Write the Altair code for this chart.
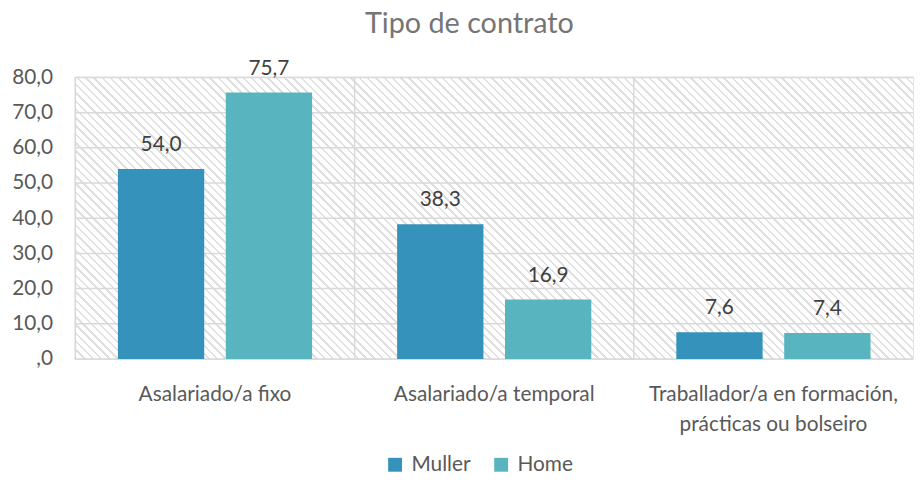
import math
import altair as alt
import pandas as pd

# ---- data ----
categories = [
    "Asalariado/a fixo",
    "Asalariado/a temporal",
    "Traballador/a en formación, prácticas ou bolseiro",
]
series = ["Muller", "Home"]
muller = [54.0, 38.3, 7.6]
home = [75.7, 16.9, 7.4]
y_ticks = [0, 10, 20, 30, 40, 50, 60, 70, 80]
colors = ["#3592BA", "#58B5C0"]

rows = []
for c, m, h in zip(categories, muller, home):
    rows.append({"cat": c, "sexo": "Muller", "val": m})
    rows.append({"cat": c, "sexo": "Home", "val": h})
df = pd.DataFrame(rows)
df["lab"] = df["val"].map(lambda v: f"{v:.1f}".replace(".", ","))
ticks_df = pd.DataFrame({"val": y_ticks})
cats_df = pd.DataFrame({"cat": categories})

# ---- style ----
W, H = 845, 284
FONT = "Lato"
FS = 21
TXT = "#595959"
GRID = "#D9D9D9"

# diagonal hatch background via a striped linear gradient
r = H / W
k = (1 + r) / (1 + r * r)
n_stripes = 135
f = 0.30
stops = []
for i in range(n_stripes):
    a = i / n_stripes
    b = (i + f) / n_stripes
    e = (i + 1) / n_stripes
    stops += [
        alt.GradientStop(offset=a, color="#E0E0E0"),
        alt.GradientStop(offset=b, color="#E0E0E0"),
        alt.GradientStop(offset=b, color="#FFFFFF"),
        alt.GradientStop(offset=e, color="#FFFFFF"),
    ]
hatch = alt.Gradient(gradient="linear", stops=stops, x1=0, y1=1, x2=k, y2=1 - k * r)

y_scale = alt.Scale(domain=[0, 80], nice=False, zero=True)
y_axis = alt.Axis(
    title=None,
    values=y_ticks,
    grid=False,
    domain=False,
    ticks=False,
    labelFont=FONT,
    labelFontSize=FS,
    labelColor=TXT,
    labelPadding=23,
    labelOverlap=False,
    labelExpr="datum.value == 0 ? ',0' : replace(format(datum.value, '.1f'), '.', ',')",
)
x_axis = alt.Axis(
    title=None,
    labelAngle=0,
    grid=False,
    ticks=False,
    domain=False,
    labelFont=FONT,
    labelFontSize=FS,
    labelColor=TXT,
    labelPadding=25,
    labelLineHeight=30,
    labelBaseline="top",
    labelLimit=0,
    labelOverlap=False,
    labelExpr="split(replace(datum.label, ', ', ',|'), '|')",
)
x_scale = alt.Scale(domain=categories, paddingInner=0, paddingOuter=0)

bg = alt.Chart(pd.DataFrame({"a": [0]})).mark_rect(fill=hatch).encode(
    y=alt.datum(0, scale=y_scale, axis=y_axis),
    y2=alt.datum(80),
)

hgrid = alt.Chart(ticks_df).mark_rule(color=GRID, strokeWidth=1.5).encode(
    y=alt.Y("val:Q", scale=y_scale, axis=y_axis),
)

vgrid = alt.Chart(cats_df).mark_rule(color=GRID, strokeWidth=1.5).encode(
    x=alt.X("cat:N", sort=categories, scale=x_scale, axis=x_axis, bandPosition=0),
)

xoff = alt.XOffset(
    "sexo:N", sort=series, scale=alt.Scale(paddingInner=0.2, paddingOuter=0.394)
)

bars = alt.Chart(df).mark_bar().encode(
    x=alt.X("cat:N", sort=categories, scale=x_scale, axis=x_axis),
    y=alt.Y("val:Q", scale=y_scale, axis=y_axis),
    xOffset=xoff,
    color=alt.Color(
        "sexo:N",
        sort=series,
        scale=alt.Scale(domain=series, range=colors),
        legend=alt.Legend(
            title=None,
            orient="none",
            direction="horizontal",
            legendX=312,
            legendY=380,
            symbolType="square",
            symbolSize=196,
            symbolStrokeWidth=0,
            labelFont=FONT,
            labelFontSize=FS,
            labelColor=TXT,
            labelOffset=6,
            columnPadding=20,
        ),
    ),
)

labels = alt.Chart(df).mark_text(
    font=FONT, fontSize=FS, color="#404040", baseline="alphabetic", dy=-18
).encode(
    x=alt.X("cat:N", sort=categories, scale=x_scale, axis=x_axis),
    y=alt.Y("val:Q", scale=y_scale, axis=y_axis),
    xOffset=xoff,
    text="lab:N",
)

chart = (
    alt.layer(bg, hgrid, vgrid, bars, labels)
    .properties(
        width=W,
        height=H,
        autosize=alt.AutoSizeParams(type="none"),
        padding={"left": 68, "top": 68, "right": 1, "bottom": 114},
        title=alt.TitleParams(
            "Tipo de contrato",
            font=FONT,
            fontSize=29,
            fontWeight="normal",
            color="#757575",
            anchor="middle",
            dx=-25,
            offset=0,
            dy=4,
            baseline="alphabetic",
        ),
    )
    .configure_view(stroke=GRID, strokeWidth=1.5)
)

chart.save("out.html", embed_options={"renderer": "svg", "actions": False})
